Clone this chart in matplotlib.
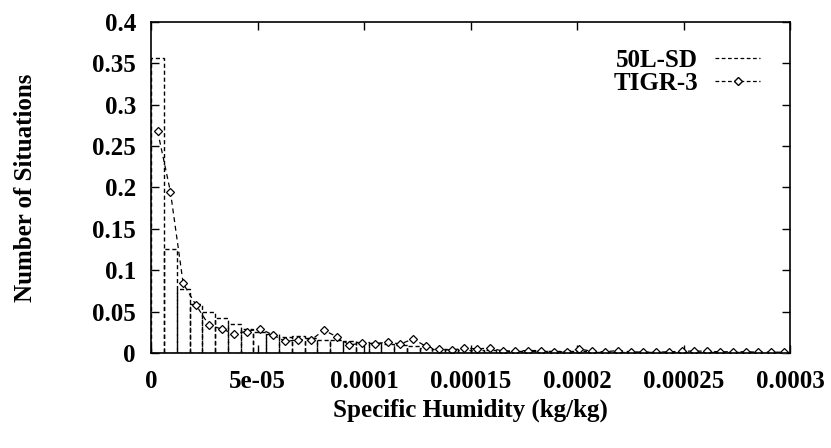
import numpy as np
import matplotlib
matplotlib.use("Agg")
import matplotlib.pyplot as plt
from matplotlib.lines import Line2D

# histogram bins of specific humidity (kg/kg)
bin_width = 6e-6
n_bins = 50

sd_50l = [0.357, 0.126, 0.077, 0.059, 0.0497, 0.042, 0.035, 0.0295, 0.025, 0.023,
          0.019, 0.020, 0.018, 0.016, 0.016, 0.015, 0.013, 0.0125, 0.0115, 0.010,
          0.008, 0.006, 0.005, 0.0045, 0.004, 0.0036, 0.0032, 0.003, 0.003, 0.0025,
          0.0025, 0.002, 0.002, 0.002, 0.0018, 0.0016, 0.0015, 0.0014, 0.0012, 0.0012,
          0.001, 0.001, 0.001, 0.0009, 0.0008, 0.0008, 0.0007, 0.0006, 0.0006, 0.0005]

tigr3 = [0.268, 0.195, 0.084, 0.058, 0.034, 0.029, 0.0234, 0.026, 0.0295, 0.022,
         0.014, 0.016, 0.0155, 0.0277, 0.0198, 0.0097, 0.012, 0.0115, 0.013, 0.011,
         0.017, 0.008, 0.0043, 0.0036, 0.006, 0.005, 0.006, 0.0025, 0.0025, 0.003,
         0.003, 0.0015, 0.0015, 0.005, 0.002, 0.0015, 0.003, 0.0015, 0.001, 0.001,
         0.0015, 0.002, 0.0025, 0.002, 0.0015, 0.0015, 0.0015, 0.001, 0.001, 0.001]

xticks = [0, 5e-05, 0.0001, 0.00015, 0.0002, 0.00025, 0.0003]
xticklabels = ["0", "5e-05", "0.0001", "0.00015", "0.0002", "0.00025", "0.0003"]
yticks = [0, 0.05, 0.1, 0.15, 0.2, 0.25, 0.3, 0.35, 0.4]
yticklabels = ["0", "0.05", "0.1", "0.15", "0.2", "0.25", "0.3", "0.35", "0.4"]

plt.rcParams['font.family'] = ['Liberation Serif', 'DejaVu Serif']
plt.rcParams['font.weight'] = 'bold'

centers = (np.arange(n_bins) + 0.5) * bin_width

fig = plt.figure(figsize=(8.31, 4.48), dpi=100)
ax = fig.add_axes([0.182, 0.212, 0.769, 0.739])

# 50L-SD as dashed boxes
ax.bar(centers, sd_50l, width=bin_width, fill=False, edgecolor='black',
       linestyle=(0, (3, 2)), linewidth=1.0)

# TIGR-3 as dashed line with diamond points
ax.plot(centers, tigr3, color='black', linestyle=(0, (4, 3)), linewidth=0.9,
        marker='D', markersize=4.5, markerfacecolor='white',
        markeredgecolor='black', markeredgewidth=0.9)

ax.set_xlim(0, 0.0003)
ax.set_ylim(0, 0.4)
ax.set_xticks(xticks)
ax.set_xticklabels(xticklabels)
ax.set_yticks(yticks)
ax.set_yticklabels(yticklabels)
ax.tick_params(direction='in', top=True, right=True, length=6, width=1,
               labelsize=18)
ax.tick_params(axis='x', pad=12)
ax.tick_params(axis='y', pad=11)
for s in ax.spines.values():
    s.set_linewidth(1.2)

ax.set_xlabel("Specific Humidity (kg/kg)", fontsize=18, fontweight='bold', labelpad=4)
ax.set_ylabel("Number of Situations", fontsize=18, fontweight='bold', labelpad=40)

handles = [
    Line2D([], [], color='black', linestyle=(0, (3, 2)), linewidth=0.9),
    Line2D([], [], color='black', linestyle=(0, (3, 2)), linewidth=0.9,
           marker='D', markersize=4.5, markerfacecolor='white', markevery=[1]),
]
leg = ax.legend(handles, ["50L-SD", "TIGR-3"], loc='upper right',
                frameon=False, markerfirst=False, fontsize=18,
                handlelength=1.8, handletextpad=0.7, labelspacing=0.0,
                borderaxespad=0.0, bbox_to_anchor=(0.969, 0.95))
for t in leg.get_texts():
    t.set_fontweight('bold')

fig.savefig("out.png", dpi=100)
